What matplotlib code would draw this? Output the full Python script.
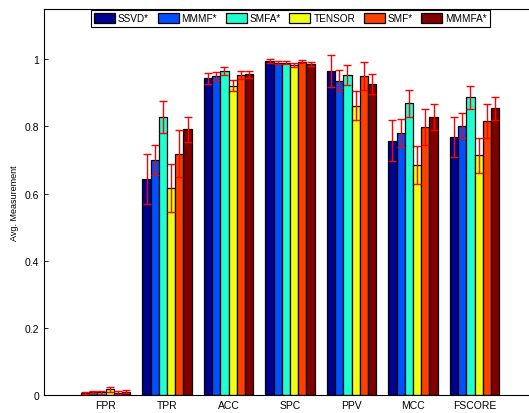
import numpy as np
import matplotlib
matplotlib.use("Agg")
import matplotlib.pyplot as plt

plt.rcParams['font.family'] = ['Liberation Sans', 'DejaVu Sans']

metrics = ["FPR", "TPR", "ACC", "SPC", "PPV", "MCC", "FSCORE"]
methods = ["SSVD*", "MMMF*", "SMFA*", "TENSOR", "SMF*", "MMMFA*"]

# mean per method, one entry per metric
ssvd = [0.006, 0.643, 0.943, 0.995, 0.966, 0.757, 0.769]
mmmf = [0.009, 0.701, 0.949, 0.990, 0.936, 0.781, 0.802]
smfa = [0.008, 0.829, 0.964, 0.990, 0.954, 0.869, 0.887]
tensor = [0.017, 0.616, 0.922, 0.983, 0.862, 0.686, 0.714]
smf = [0.007, 0.719, 0.952, 0.993, 0.950, 0.799, 0.817]
mmmfa = [0.010, 0.791, 0.955, 0.986, 0.927, 0.829, 0.854]

# standard deviations
ssvd_err = [0.004, 0.075, 0.015, 0.006, 0.048, 0.061, 0.060]
mmmf_err = [0.004, 0.045, 0.012, 0.005, 0.031, 0.041, 0.037]
smfa_err = [0.004, 0.047, 0.012, 0.005, 0.029, 0.041, 0.035]
tensor_err = [0.008, 0.072, 0.016, 0.007, 0.043, 0.056, 0.053]
smf_err = [0.004, 0.070, 0.012, 0.005, 0.042, 0.054, 0.050]
mmmfa_err = [0.005, 0.038, 0.010, 0.005, 0.030, 0.039, 0.034]

means = [ssvd, mmmf, smfa, tensor, smf, mmmfa]
errs = [ssvd_err, mmmf_err, smfa_err, tensor_err, smf_err, mmmfa_err]
colors = ["#00008f", "#0050ff", "#20ffd0", "#f0ff10", "#ff4000", "#800000"]

fig = plt.figure(figsize=(5.29, 4.14), dpi=100)
ax = fig.add_axes([44 / 529, 18 / 414, 492 / 529, 386 / 414])

x = np.arange(1, len(metrics) + 1)
n = len(methods)
group_w = 0.8
bw = group_w / n
handles = []
for i in range(n):
    xs = x - group_w / 2 + bw * (i + 0.5)
    b = ax.bar(xs, means[i], width=bw, color=colors[i], edgecolor="black",
               linewidth=0.9, label=methods[i])
    ax.errorbar(xs, means[i], yerr=errs[i], fmt="none", ecolor="red",
                elinewidth=1.0, capsize=2.6, capthick=1.0)
    handles.append(b)

ax.set_xlim(0, 8)
ax.set_ylim(0, 1.15)
ax.set_xticks(x)
ax.set_xticklabels(metrics, fontsize=7.5)
ax.set_yticks([0, 0.2, 0.4, 0.6, 0.8, 1.0])
ax.set_yticklabels(["0", "0.2", "0.4", "0.6", "0.8", "1"], fontsize=7.5)
ax.tick_params(direction="in", length=3, top=True, right=True, width=0.6)
ax.set_ylabel("Avg. Measurement", fontsize=6.5)
for s in ax.spines.values():
    s.set_linewidth(0.8)

leg = ax.legend(handles=handles, loc="upper left", ncol=6,
                bbox_to_anchor=(91 / 529, 1 - 11 / 414),
                bbox_transform=fig.transFigure, fontsize=7.2,
                handlelength=2.1, handleheight=1.2, handletextpad=0.3,
                columnspacing=0.85, borderpad=0.3, borderaxespad=0,
                fancybox=False, framealpha=1)
leg.get_frame().set_edgecolor("black")
leg.get_frame().set_linewidth(0.8)

fig.savefig("out.png", dpi=100)
